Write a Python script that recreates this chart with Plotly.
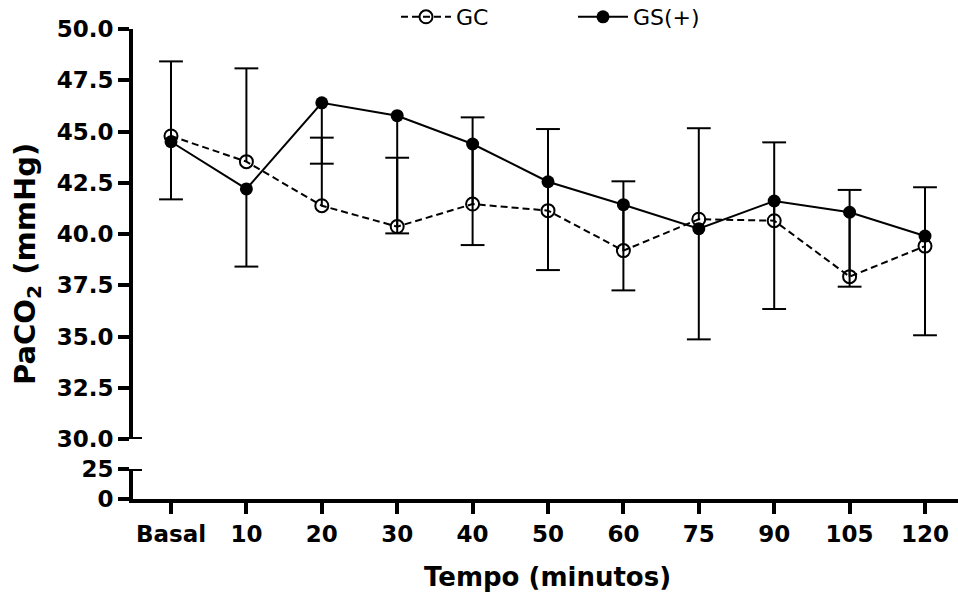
import plotly.graph_objects as go

categories = ["Basal", "10", "20", "30", "40", "50", "60", "75", "90", "105", "120"]
gc_mean = [44.78, 43.53, 41.38, 40.36, 41.46, 41.14, 39.19, 40.72, 40.65, 37.92, 39.41]
gc_err = [3.64, 4.55, 3.32, 3.36, 4.23, 3.98, 3.38, 4.44, 3.82, 4.23, 2.87]
gs_mean = [44.50, 42.20, 46.40, 45.77, 44.39, 42.55, 41.43, 40.26, 41.61, 41.06, 39.90]
gs_err = [2.81, 3.79, 2.97, 5.74, 4.93, 4.31, 4.18, 5.40, 5.27, 3.63, 4.84]

xs = list(range(len(categories)))
FONT = "DejaVu Sans"

def stems(mean, err, sign):
    sx, sy, cy = [], [], []
    for x, m, e in zip(xs, mean, err):
        end = m + sign * e
        sx += [x, x, None]
        sy += [m, end, None]
        cy.append(end)
    return sx, sy, cy

fig = go.Figure()

for mean, err, sign in [(gc_mean, gc_err, 1), (gs_mean, gs_err, -1)]:
    sx, sy, cy = stems(mean, err, sign)
    fig.add_trace(go.Scatter(x=sx, y=sy, mode="lines", line=dict(color="black", width=2),
                             showlegend=False, hoverinfo="skip"))
    fig.add_trace(go.Scatter(x=xs, y=cy, mode="markers",
                             marker=dict(symbol="line-ew", size=17, line=dict(color="black", width=2)),
                             showlegend=False, hoverinfo="skip"))

fig.add_trace(go.Scatter(x=xs, y=gc_mean, mode="lines+markers", name="GC",
                         line=dict(color="black", width=2, dash="7px,4px"),
                         marker=dict(symbol="circle-open", size=13, color="black", line=dict(width=2))))
fig.add_trace(go.Scatter(x=xs, y=gs_mean, mode="lines+markers", name="GS(+)",
                         line=dict(color="black", width=2),
                         marker=dict(symbol="circle", size=13, color="black")))

W, H = 958, 594
L, R, T, B = 133, 0, 29, 95
PH = H - T - B
PW = W - L - R
y2_top = 30 / PH
y_bot = 60 / PH

tickfont = dict(family=FONT, size=23, color="black", weight="bold")
axis_common = dict(showline=True, linecolor="black", linewidth=4, ticks="outside", ticklen=11, tickwidth=4,
                   tickcolor="black", showgrid=False, zeroline=False, tickfont=tickfont, automargin=False)

fig.update_layout(
    width=W, height=H,
    margin=dict(l=L, r=R, t=T, b=B, autoexpand=False),
    plot_bgcolor="white", paper_bgcolor="white",
    font=dict(family=FONT, color="black"),
    showlegend=True,
    legend=dict(orientation="h", x=(396 - L) / PW, y=1 + (T - 17) / PH, xanchor="left", yanchor="middle",
                font=dict(family=FONT, size=22, color="black"), itemwidth=50, entrywidth=112,
                bgcolor="rgba(0,0,0,0)"),
    xaxis=dict(range=[-(171 - L) / 75.4, (W - 171) / 75.4], tickmode="array", tickvals=xs, ticktext=categories,
               anchor="y2", **axis_common),
    yaxis=dict(domain=[y_bot, 1], range=[30, 50], tick0=30, dtick=2.5, tickformat=".1f",
               anchor="x", **axis_common),
    yaxis2=dict(domain=[0, y2_top], range=[0, 25], tickmode="array", tickvals=[0, 25], ticktext=["0", "25"],
                anchor="x", **axis_common),
    shapes=[
        dict(type="line", xref="paper", yref="y", x0=0, x1=9 / PW, y0=30, y1=30,
             line=dict(color="black", width=4)),
        dict(type="line", xref="paper", yref="y2", x0=0, x1=9 / PW, y0=25, y1=25,
             line=dict(color="black", width=4)),
    ],
    annotations=[
        dict(text="<b>PaCO<sub>2</sub> (mmHg)</b>", xref="paper", yref="paper", x=0, y=0.5,
             xshift=27 - L, xanchor="center", yanchor="middle", textangle=-90, showarrow=False,
             font=dict(family=FONT, size=29, color="black")),
        dict(text="<b>Tempo (minutos)</b>", xref="paper", yref="paper", x=(547 - L) / PW,
             y=-(577 - 499) / PH, xanchor="center", yanchor="middle", showarrow=False,
             font=dict(family=FONT, size=26, color="black")),
    ],
)

fig.write_html("out.html", config={"displayModeBar": False},
               post_script="document.body.style.margin='0';document.body.style.padding='0';document.body.style.overflow='hidden';")
